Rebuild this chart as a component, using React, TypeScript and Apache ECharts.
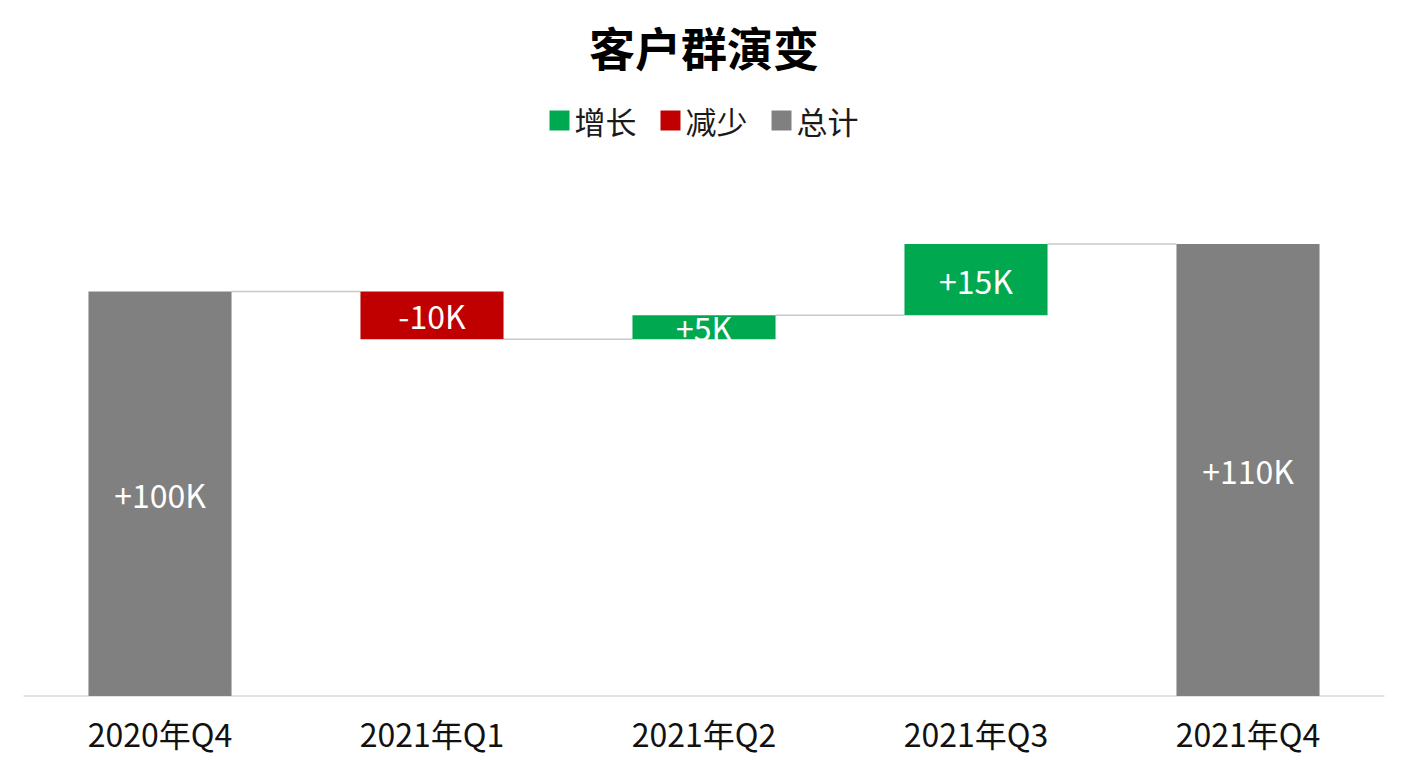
import React, { useEffect, useRef } from 'react';
import * as echarts from 'echarts';

const categories = ['2020年Q4', '2021年Q1', '2021年Q2', '2021年Q3', '2021年Q4'];
// 正数为增长, 负数为减少; 首尾为总计
const values = [100, -10, 5, 15, 110];
const kinds = ['total', 'change', 'change', 'change', 'total'];
const legendNames = ['增长', '减少', '总计'];

const GREEN = '#00a84f';
const RED = '#c00000';
const GRAY = '#808080';
const FONT = '"Noto Sans CJK SC", "Noto Sans", sans-serif';
const BAR_RATIO = 0.526;

export default function App() {
  const chartRef = useRef<HTMLDivElement>(null);

  useEffect(() => {
    if (!chartRef.current) return;
    const myChart = echarts.init(chartRef.current, null, { renderer: 'svg' });

    const base: number[] = [];
    const up: (number | string)[] = [];
    const down: (number | string)[] = [];
    const total: (number | string)[] = [];
    const levels: number[][] = [];
    let running = 0;
    values.forEach((v, i) => {
      if (kinds[i] === 'total') {
        base.push(0);
        up.push('-');
        down.push('-');
        total.push(v);
        running = v;
      } else if (v >= 0) {
        base.push(running);
        up.push(v);
        down.push('-');
        total.push('-');
        running += v;
      } else {
        base.push(running + v);
        up.push('-');
        down.push(-v);
        total.push('-');
        running += v;
      }
      if (i < values.length - 1) levels.push([i, running]);
    });

    const fmt = (sign: string) => (p: any) => `${sign}${p.value}K`;
    const label = (sign: string) => ({
      show: true,
      position: 'inside',
      color: '#ffffff',
      fontSize: 32,
      fontFamily: FONT,
      formatter: fmt(sign)
    });

    const option = {
      animation: false,
      textStyle: { fontFamily: FONT },
      title: {
        text: '客户群演变',
        left: 'center',
        top: 18,
        textStyle: { fontSize: 46, fontWeight: 'bold', color: '#000', fontFamily: FONT }
      },
      legend: {
        data: legendNames,
        top: 100,
        left: 'center',
        icon: 'rect',
        itemWidth: 20,
        itemHeight: 20,
        itemGap: 24,
        textStyle: { fontSize: 31, color: '#1a1a1a', fontFamily: FONT }
      },
      grid: { left: 24, right: 24, top: 244, bottom: 72 },
      xAxis: {
        type: 'category',
        data: categories,
        axisLine: { lineStyle: { color: '#d9d9d9', width: 1.5 } },
        axisTick: { show: false },
        axisLabel: { color: '#111', fontSize: 32, margin: 21, fontFamily: FONT }
      },
      yAxis: {
        type: 'value',
        min: 15,
        max: 110,
        show: false,
        splitLine: { show: false }
      },
      series: [
        {
          name: '辅助',
          type: 'bar',
          stack: 'w',
          barWidth: `${BAR_RATIO * 100}%`,
          itemStyle: { color: 'transparent' },
          silent: true,
          data: base
        },
        {
          name: '增长',
          type: 'bar',
          stack: 'w',
          itemStyle: { color: GREEN },
          label: label('+'),
          data: up
        },
        {
          name: '减少',
          type: 'bar',
          stack: 'w',
          itemStyle: { color: RED },
          label: label('-'),
          data: down
        },
        {
          name: '总计',
          type: 'bar',
          stack: 'w',
          itemStyle: { color: GRAY },
          label: label('+'),
          data: total
        },
        {
          name: '连接线',
          type: 'custom',
          silent: true,
          clip: false,
          z: 1,
          data: levels,
          renderItem: (params: any, api: any) => {
            const i = api.value(0);
            const lv = api.value(1);
            const p0 = api.coord([i, lv]);
            const p1 = api.coord([i + 1, lv]);
            const half = (api.size([1, 0])[0] * BAR_RATIO) / 2;
            return {
              type: 'line',
              shape: { x1: p0[0] + half, y1: p0[1], x2: p1[0] - half, y2: p1[1] },
              style: { stroke: '#c8c8c8', lineWidth: 1.5 }
            };
          }
        }
      ]
    };

    myChart.setOption(option);
    return () => {
      myChart.dispose();
    };
  }, []);

  return (
    <div
      ref={chartRef}
      style={{ position: 'fixed', left: 0, top: 0, width: 1408, height: 768, background: '#fff' }}
    />
  );
}
